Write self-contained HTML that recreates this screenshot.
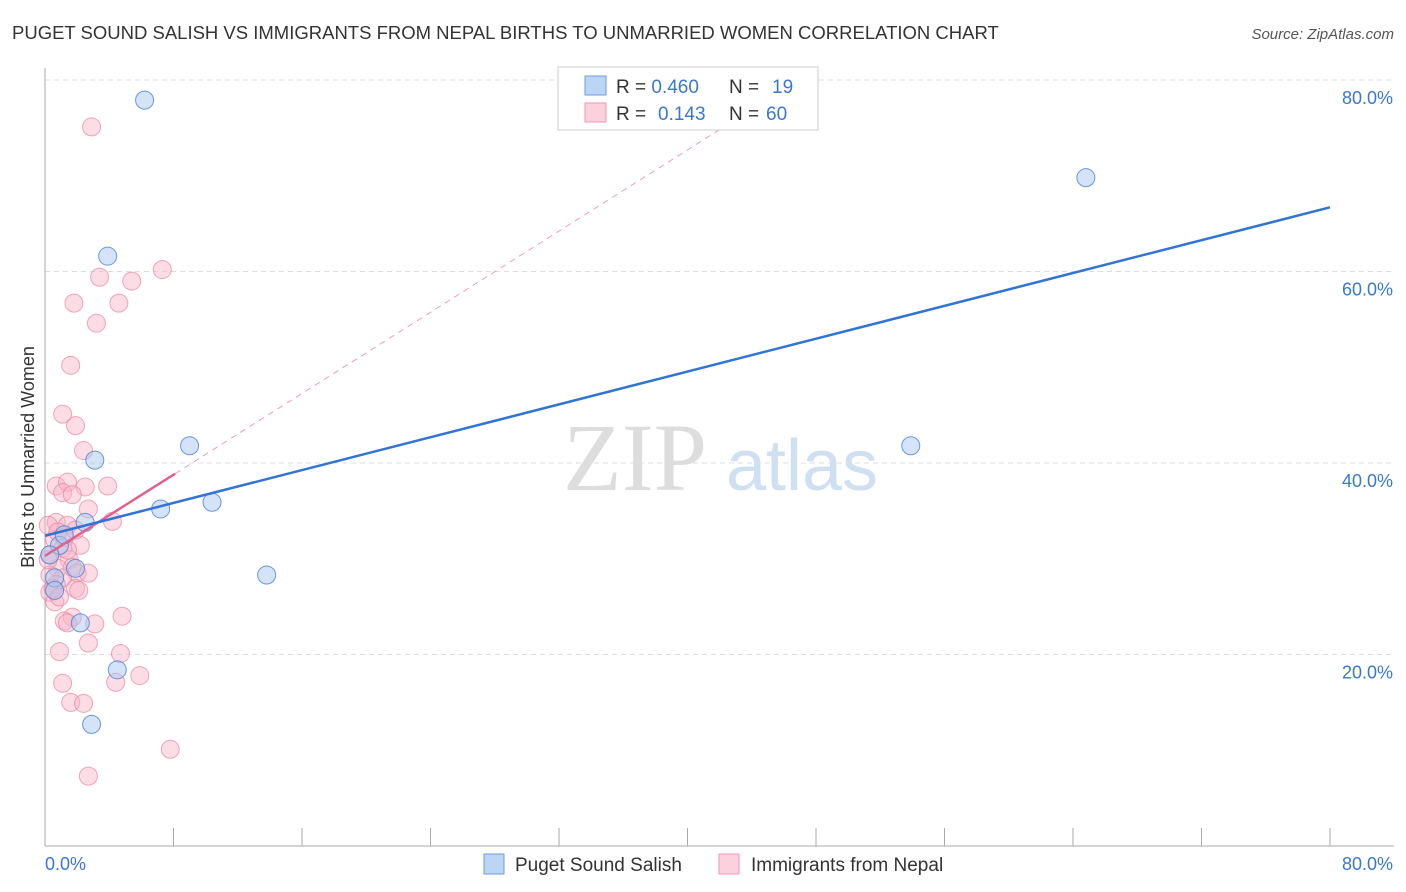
<!DOCTYPE html>
<html><head><meta charset="utf-8"><style>
body{margin:0;background:#fff;font-family:"Liberation Sans",sans-serif}
svg{display:block}
</style></head><body>
<svg width="1406" height="892" xmlns="http://www.w3.org/2000/svg">
<text x="12" y="39" font-size="18.5" fill="#333">PUGET SOUND SALISH VS IMMIGRANTS FROM NEPAL BIRTHS TO UNMARRIED WOMEN CORRELATION CHART</text>
<text x="1394" y="39" font-size="15" fill="#555" font-style="italic" text-anchor="end">Source: ZipAtlas.com</text>
<g>
<text x="635" y="490" font-size="96" fill="#ddd" font-family="Liberation Serif,serif" text-anchor="middle">ZIP</text>
<text x="802" y="490" font-size="72" fill="#cfe0f3" text-anchor="middle">atlas</text>
</g>
<g id="grid"></g>
<g id="axes"></g>
<g id="marks"></g>
<text transform="translate(34,457) rotate(-90)" font-size="18" fill="#333" text-anchor="middle">Births to Unmarried Women</text>
<g>
<rect x="558" y="67" width="260" height="63" fill="#fff" stroke="#ccc"/>
<rect x="585" y="76" width="21" height="19" fill="#bcd5f5" stroke="#6a9de0"/>
<rect x="585" y="103" width="21" height="19" fill="#fcd0dc" stroke="#ee9ab3"/>
<text x="616" y="93" font-size="19" fill="#333">R = <tspan fill="#3a78d0">0.460</tspan><tspan x="729">N = </tspan><tspan x="772" fill="#3a78d0">19</tspan></text>
<text x="616" y="120" font-size="19" fill="#333">R = <tspan x="658" fill="#3a78d0">0.143</tspan><tspan x="729">N = </tspan><tspan x="766" fill="#3a78d0">60</tspan></text>
</g>
<g>
<rect x="484" y="854" width="20" height="20" fill="#bcd5f5" stroke="#6a9de0"/>
<text x="515" y="871" font-size="19" fill="#333">Puget Sound Salish</text>
<rect x="719" y="854" width="20" height="20" fill="#fcd0dc" stroke="#ee9ab3"/>
<text x="751" y="871" font-size="19" fill="#333">Immigrants from Nepal</text>
</g>
</svg>
<script>
const blueX=[6.2,64.8,3.9,9.0,53.9,3.1,7.2,10.4,2.5,13.8,1.9,0.6,2.2,4.5,2.9,0.9,0.3,1.2,0.6];
const blueY=[77.9,69.8,61.6,41.8,41.8,40.3,35.2,35.9,33.8,28.3,29.0,28.0,23.3,18.4,12.7,31.4,30.4,32.5,26.7];
const pinkX=[2.9,3.4,5.4,7.3,1.8,4.6,3.2,1.6,1.1,1.9,2.4,0.7,1.4,2.5,3.9,1.1,1.7,2.7,4.2,0.7,1.4,2.2,0.6,1.1,0.3,1.5,1.7,0.8,2.0,2.7,0.3,1.1,0.7,1.9,2.1,0.3,0.6,1.7,1.2,1.4,4.8,3.1,0.9,4.7,2.7,1.1,4.4,5.9,1.6,2.4,7.8,2.7,0.2,0.2,0.5,0.9,1.2,1.9,1.4,0.8];
const pinkY=[75.1,59.4,59.0,60.2,56.7,56.7,54.6,50.2,45.1,43.9,41.3,37.6,38.0,37.5,37.6,36.9,36.7,35.2,33.9,33.8,33.5,31.4,32.0,31.1,30.4,29.9,29.1,29.0,28.5,28.5,28.3,28.0,27.3,26.9,26.7,26.5,25.5,23.9,23.5,23.3,24.0,23.2,20.3,20.1,21.2,17.0,17.1,17.8,15.0,14.9,10.1,7.3,33.5,29.9,26.9,26.0,32.2,33.0,30.9,32.8];
const yTicks=[20,40,60,80];
const yTickLabels=["20.0%","40.0%","60.0%","80.0%"];
const xTicks=[0,8,16,24,32,40,48,56,64,72,80];
const blueTrend=[32.4,66.7];
const pinkTrend=[30.3,1.06];
const NS="http://www.w3.org/2000/svg";
const X0=45,X1=1330,Y0=846,PY=9.575;
const sx=v=>X0+(X1-X0)*v/80;
const sy=v=>Y0-v*PY;
function mk(t,a,p){const e=document.createElementNS(NS,t);for(const k in a)e.setAttribute(k,a[k]);p.appendChild(e);return e;}
const grid=document.getElementById('grid'),axes=document.getElementById('axes'),marks=document.getElementById('marks');
yTicks.forEach((v,i)=>{
 const l=mk('line',{x1:X0,x2:1394,y1:sy(v),y2:sy(v),stroke:'#ddd','stroke-dasharray':'5,4'},grid);
 
 
 const t=mk('text',{x:1393,y:sy(v)+24,'font-size':18,fill:'#3a78d0','text-anchor':'end'},axes);
 t.textContent=yTickLabels[i];
 
 
});
mk('line',{x1:X0,x2:X0,y1:68,y2:Y0,stroke:'#aaa'},axes);
mk('line',{x1:X0,x2:1394,y1:Y0,y2:Y0,stroke:'#aaa'},axes);
xTicks.forEach(v=>{const l=mk('line',{x1:sx(v),x2:sx(v),y1:828,y2:Y0,stroke:'#aaa'},axes);
 
 });
let t=mk('text',{x:45,y:870,'font-size':18,fill:'#3a78d0'},axes);t.textContent=xTicks[0].toFixed(1)+'%';


t=mk('text',{x:1393,y:870,'font-size':18,fill:'#3a78d0','text-anchor':'end'},axes);t.textContent=xTicks[xTicks.length-1].toFixed(1)+'%';


pinkX.forEach((x,i)=>{const c=mk('circle',{cx:sx(x),cy:sy(pinkY[i]),r:9,fill:'rgba(248,180,200,0.45)',stroke:'rgba(232,130,160,0.7)','stroke-width':1},marks);
 
 });
blueX.forEach((x,i)=>{const c=mk('circle',{cx:sx(x),cy:sy(blueY[i]),r:9,fill:'rgba(170,200,240,0.5)',stroke:'rgba(70,130,210,0.8)','stroke-width':1},marks);
 
 });
const xTop=(81.3-pinkTrend[0])/pinkTrend[1];
let l=mk('line',{x1:sx(0),y1:sy(pinkTrend[0]),x2:sx(xTop),y2:sy(81.3),stroke:'#e8a0b8','stroke-dasharray':'6,5','stroke-width':1},marks);


l=mk('line',{x1:sx(0),y1:sy(pinkTrend[0]),x2:sx(8.1),y2:sy(pinkTrend[0]+pinkTrend[1]*8.1),stroke:'#e06090','stroke-width':2.5},marks);


l=mk('line',{x1:sx(0),y1:sy(blueTrend[0]),x2:sx(80),y2:sy(blueTrend[1]),stroke:'#2f74d6','stroke-width':2.5},marks);


</script>
</body></html>
